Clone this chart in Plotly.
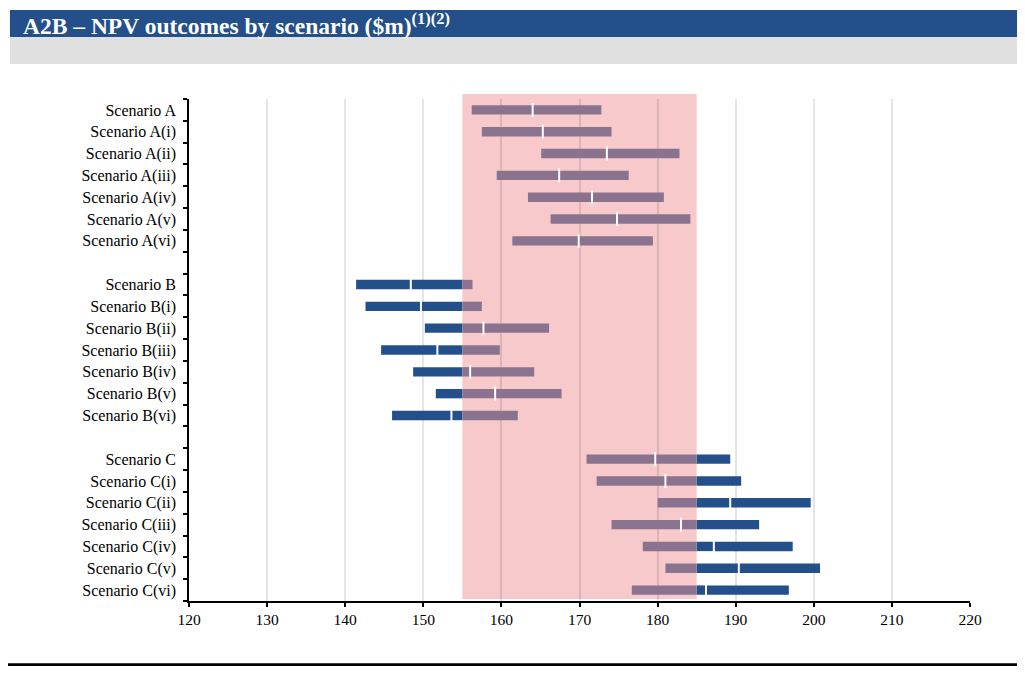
import plotly.graph_objects as go

# ---------------- data ----------------
categories = [
    "Scenario A", "Scenario A(i)", "Scenario A(ii)", "Scenario A(iii)", "Scenario A(iv)", "Scenario A(v)", "Scenario A(vi)",
    " ",
    "Scenario B", "Scenario B(i)", "Scenario B(ii)", "Scenario B(iii)", "Scenario B(iv)", "Scenario B(v)", "Scenario B(vi)",
    "  ",
    "Scenario C", "Scenario C(i)", "Scenario C(ii)", "Scenario C(iii)", "Scenario C(iv)", "Scenario C(v)", "Scenario C(vi)",
]
scenarios = [c for c in categories if c.strip()]

low = [156.2, 157.5, 165.1, 159.4, 163.4, 166.3, 161.4,
       141.4, 142.6, 150.2, 144.6, 148.7, 151.6, 146.0,
       170.9, 172.2, 180.0, 174.1, 178.1, 181.0, 176.7]
mid = [164.0, 165.3, 173.5, 167.4, 171.6, 174.8, 169.9,
       148.4, 149.7, 157.7, 151.8, 156.0, 159.2, 153.6,
       179.7, 181.0, 189.3, 183.0, 187.2, 190.4, 186.2]
high = [172.8, 174.1, 182.8, 176.3, 180.8, 184.2, 179.4,
        156.3, 157.5, 166.1, 159.8, 164.2, 167.7, 162.1,
        189.3, 190.7, 199.6, 193.0, 197.3, 200.8, 196.8]

band_low, band_high = 155, 185
x_ticks = list(range(120, 221, 10))

title_text = "<b>A2B – NPV outcomes by scenario ($m)<sup>(1)(2)</sup></b>"

# ---------------- styles ----------------
BLUE = "#23508a"
MAUVE = "#8a738f"
BAND = "#f7c9cb"
FONT = "Liberation Serif"

# split each range into pieces at the band edges and the mid value
seg = {BLUE: {"y": [], "base": [], "x": []}, MAUVE: {"y": [], "base": [], "x": []}}
for name, lo, md, hi in zip(scenarios, low, mid, high):
    pts = sorted({lo, hi, md} | {b for b in (band_low, band_high) if lo < b < hi})
    for a, b in zip(pts[:-1], pts[1:]):
        c = (a + b) / 2
        col = MAUVE if band_low <= c <= band_high else BLUE
        seg[col]["y"].append(name)
        seg[col]["base"].append(a)
        seg[col]["x"].append(b - a)

fig = go.Figure()
for col, d in seg.items():
    fig.add_trace(go.Bar(
        y=d["y"], x=d["x"], base=d["base"], orientation="h",
        marker=dict(color=col, line=dict(width=0)), width=0.43,
        showlegend=False, hoverinfo="skip",
    ))

fig.add_trace(go.Scatter(
    x=mid, y=scenarios, mode="markers",
    marker=dict(symbol="line-ns", size=10, line=dict(color="white", width=2)),
    showlegend=False, hoverinfo="skip",
))

OFF = 8  # page offset of the figure inside the browser window
FW, FH = 1025 - OFF, 674 - 2 * OFF
L, R, T, B = 189 - OFF, 969.7 - OFF, 99 - OFF, 601 - OFF
W = R - L
H = B - T


def px(x):
    return (x - OFF - L) / W


def py(y):
    return (B - (y - OFF)) / H


shapes = [
    dict(type="rect", xref="x", yref="paper", x0=band_low, x1=band_high,
         y0=py(599), y1=py(94), fillcolor=BAND, line=dict(width=0), layer="below"),
    dict(type="rect", xref="paper", yref="paper", x0=px(10), x1=px(1030),
         y0=py(37), y1=py(10), fillcolor="#23508a", line=dict(width=0)),
    dict(type="rect", xref="paper", yref="paper", x0=px(10), x1=px(1030),
         y0=py(64), y1=py(37), fillcolor="#e0e0e0", line=dict(width=0)),
    dict(type="line", xref="paper", yref="paper", x0=px(8), x1=px(1030),
         y0=py(664.7), y1=py(664.7), line=dict(color="black", width=3)),
]

fig.update_layout(
    width=FW, height=FH,
    margin=dict(l=L, r=FW - R, t=T, b=FH - B),
    paper_bgcolor="white", plot_bgcolor="white",
    barmode="overlay",
    font=dict(family=FONT, size=16, color="black"),
    shapes=shapes,
    annotations=[dict(
        text=title_text, xref="paper", yref="paper", x=px(21), y=py(24),
        xanchor="left", yanchor="middle", showarrow=False,
        font=dict(family=FONT, size=23.5, color="white"),
    )],
    xaxis=dict(
        range=[120, 220], tickvals=x_ticks, showgrid=True,
        gridcolor="rgba(0,0,0,0.1)", gridwidth=1.5,
        showline=True, linecolor="black", linewidth=1.5,
        ticks="outside", ticklen=4, tickcolor="black", tickwidth=1.5,
        zeroline=False, fixedrange=True, tickfont=dict(size=15.5),
    ),
    yaxis=dict(
        type="category", categoryorder="array", categoryarray=categories,
        tickvals=categories, range=[len(categories) - 0.5, -0.5],
        tickson="boundaries", ticks="outside", ticklen=4, tickcolor="black", tickwidth=1.5,
        showline=True, linecolor="black", linewidth=1.5, showgrid=False,
        ticklabelstandoff=8, fixedrange=True,
    ),
)

fig.write_html("out.html")
